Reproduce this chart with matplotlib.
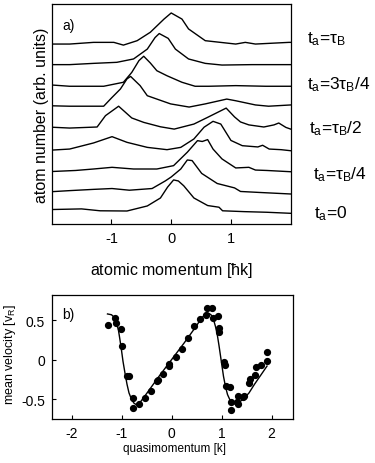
import matplotlib
matplotlib.use('Agg')
import matplotlib.pyplot as plt
import matplotlib.transforms as mtransforms
import numpy as np

plt.rcParams['font.family'] = ['Liberation Sans', 'DejaVu Sans']
plt.rcParams['mathtext.fontset'] = 'custom'
plt.rcParams['mathtext.rm'] = 'Liberation Sans'
plt.rcParams['mathtext.it'] = 'Liberation Sans'
plt.rcParams['mathtext.bf'] = 'Liberation Sans:bold'

# ---------------- panel a: momentum distributions (height above own baseline) ----------
# t_a = 0
c0_x = [-2.0, -1.5, -1.19, -0.74, -0.40, -0.18, -0.06, 0.04, 0.12, 0.21, 0.38, 0.61, 0.80, 0.86, 1.22, 1.6, 2.0]
c0_h = [0.07, 0.10, 0.01, 0.0, 0.24, 0.62, 1.14, 1.48, 1.43, 1.20, 0.62, 0.26, 0.18, 0.01, -0.03, -0.06, -0.11]
# t_a = tau_B/8
c1_x = [-2.0, -1.7, -1.30, -0.99, -0.70, -0.32, -0.10, 0.0, 0.16, 0.27, 0.35, 0.51, 0.77, 1.06, 1.16, 1.5, 2.0]
c1_h = [-0.08, -0.03, 0.03, 0.07, -0.01, 0.07, 0.43, 0.62, 1.0, 1.43, 1.40, 0.79, 0.31, 0.10, -0.07, -0.12, -0.19]
# t_a = tau_B/4
c2_x = [-2.0, -1.6, -1.30, -0.99, -0.63, -0.24, 0.04, 0.27, 0.44, 0.52, 0.61, 0.70, 0.85, 1.08, 1.30, 1.41, 1.60, 2.0]
c2_h = [-0.12, -0.07, 0.0, 0.08, 0.0, 0.0, 0.16, 0.80, 1.35, 1.31, 1.40, 0.95, 0.48, 0.05, 0.08, -0.05, -0.07, -0.13]
# t_a = 3 tau_B/8
c3_x = [-2.0, -1.7, -1.30, -0.99, -0.74, -0.40, -0.07, 0.16, 0.38, 0.55, 0.70, 0.83, 1.0, 1.19, 1.45, 1.53, 1.64, 1.84, 2.0]
c3_h = [-0.10, -0.05, 0.24, 0.54, 0.27, 0.03, -0.08, 0.03, 0.43, 0.99, 1.27, 1.14, 0.36, 0.11, 0.05, 0.13, -0.05, -0.08, -0.13]
# t_a = tau_B/2
c4_x = [-2.0, -1.7, -1.24, -1.10, -0.88, -0.66, -0.46, -0.18, 0.05, 0.38, 0.61, 0.92, 1.06, 1.16, 1.30, 1.55, 1.72, 1.80, 1.92, 2.0]
c4_h = [-0.01, -0.05, 0.0, 0.54, 0.99, 0.43, 0.22, 0.01, -0.10, 0.14, 0.46, 0.90, 0.48, 0.24, 0.10, 0.0, 0.10, 0.19, -0.02, -0.10]
# t_a = 5 tau_B/8
c5_x = [-2.0, -1.7, -1.13, -1.0, -0.85, -0.74, -0.68, -0.52, -0.40, -0.29, -0.01, 0.30, 0.57, 0.93, 1.08, 1.41, 1.63, 2.0]
c5_h = [0.01, -0.01, -0.01, 0.38, 0.81, 1.29, 1.41, 0.97, 0.49, 0.38, 0.10, -0.05, 0.10, 0.33, 0.25, 0.05, -0.01, 0.05]
# t_a = 3 tau_B/4
c6_x = [-2.0, -1.7, -1.13, -0.80, -0.66, -0.54, -0.46, -0.35, -0.24, -0.07, 0.18, 0.40, 0.63, 1.08, 1.58, 2.0]
c6_h = [0.0, -0.06, -0.06, 0.13, 0.60, 1.16, 1.37, 1.05, 0.68, 0.44, 0.13, -0.06, -0.06, -0.03, -0.06, -0.06]
# t_a = 7 tau_B/8
c7_x = [-2.0, -1.7, -1.3, -0.91, -0.63, -0.40, -0.27, -0.2, -0.05, 0.07, 0.29, 0.57, 0.85, 1.35, 2.0]
c7_h = [-0.03, -0.03, 0.03, 0.08, 0.24, 0.71, 1.26, 1.45, 1.22, 0.71, 0.24, 0.03, -0.05, -0.03, -0.03]
# t_a = tau_B
c8_x = [-2.0, -1.7, -1.3, -0.96, -0.80, -0.57, -0.35, -0.12, 0.0, 0.18, 0.29, 0.57, 1.08, 1.24, 1.41, 1.97, 2.0]
c8_h = [-0.05, -0.05, 0.03, 0.03, -0.10, 0.11, 0.51, 1.14, 1.43, 1.14, 0.67, 0.11, -0.05, 0.03, -0.05, 0.03, 0.03]

curves_x = [c0_x, c1_x, c2_x, c3_x, c4_x, c5_x, c6_x, c7_x, c8_x]
curves_h = [c0_h, c1_h, c2_h, c3_h, c4_h, c5_h, c6_h, c7_h, c8_h]

label_curve = [8, 6, 4, 2, 0]
label_text = [r'$t_a$=$\tau_B$', r'$t_a$=3$\tau_B$/4', r'$t_a$=$\tau_B$/2',
              r'$t_a$=$\tau_B$/4', r'$t_a$=0']

a_xticks = [-1, 0, 1]
a_xticklabels = ['-1', '0', '1']

# ---------------- panel b: mean velocity vs quasimomentum ----------------
q_data = [-1.27, -1.14, -1.11, -1.02, -1.00, -0.90, -0.86, -0.78, -0.78, -0.66, -0.54, -0.42,
          -0.30, -0.28, -0.18, -0.06, -0.05, 0.08, 0.20, 0.32, 0.44, 0.57, 0.68, 0.70, 0.81,
          0.82, 0.93, 0.94, 0.95, 1.05, 1.06, 1.08, 1.16, 1.18, 1.19, 1.31, 1.33, 1.32, 1.42,
          1.45, 1.54, 1.57, 1.66, 1.68, 1.78, 1.91, 1.91]
v_data = [0.44, 0.53, 0.46, 0.39, 0.17, -0.21, -0.21, -0.48, -0.61, -0.56, -0.49, -0.39,
          -0.27, -0.25, -0.18, -0.08, -0.05, 0.03, 0.14, 0.27, 0.43, 0.51, 0.57, 0.65, 0.66,
          0.53, 0.56, 0.40, 0.35, -0.03, -0.06, -0.33, -0.35, -0.63, -0.54, -0.54, -0.46, -0.56,
          -0.47, -0.46, -0.29, -0.24, -0.19, -0.09, -0.06, 0.10, -0.01]

q_theory = [-1.28, -1.20, -1.15, -1.10, -1.06, -1.03, -1.00, -0.97, -0.93, -0.89, -0.85, -0.80,
            -0.75, -0.70, -0.64, -0.5, -0.25, 0.0, 0.25, 0.5, 0.56, 0.62, 0.68, 0.74, 0.79,
            0.84, 0.88, 0.92, 0.95, 0.98, 1.01, 1.04, 1.08, 1.12, 1.17, 1.22, 1.28, 1.35,
            1.45, 1.55, 1.66, 1.78, 1.91]
v_theory = [0.58, 0.57, 0.54, 0.47, 0.37, 0.25, 0.12, -0.02, -0.17, -0.31, -0.42, -0.50,
            -0.55, -0.57, -0.55, -0.43, -0.21, 0.0, 0.21, 0.43, 0.49, 0.54, 0.58, 0.59, 0.57,
            0.51, 0.42, 0.30, 0.18, 0.05, -0.08, -0.21, -0.34, -0.44, -0.51, -0.55, -0.56, -0.54,
            -0.49, -0.42, -0.31, -0.20, -0.08]

b_xticks = [-2, -1, 0, 1, 2]
b_yticks = [0.5, 0, -0.5]
b_yticklabels = ['0.5', '0', '-0.5']

# ---------------- figure ----------------
W, H = 375, 464
fig = plt.figure(figsize=(W / 100, H / 100), dpi=100)

def px_axes(l, t, r, b):
    return fig.add_axes([l / W, 1 - b / H, (r - l) / W, (b - t) / H])

lw_spine = 0.9

# panel a
axa = px_axes(51.7, 5, 290.7, 225)
spacing = 1.0
base0 = 13 / 21
for k, (xs, hs) in enumerate(zip(curves_x, curves_h)):
    axa.plot(xs, np.array(hs) + base0 + k * spacing, color='black', lw=1.0,
             solid_joinstyle='round')
axa.set_xlim(-2, 2)
axa.set_ylim(0, 220 / 21)
axa.set_xticks(a_xticks)
axa.set_xticklabels(a_xticklabels)
axa.set_yticks([])
axa.tick_params(axis='x', direction='in', length=3.5, width=0.8, pad=5, labelsize=10.5)
for s in axa.spines.values():
    s.set_linewidth(lw_spine)
axa.set_xlabel(r'atomic momentum [$\hbar$k]', fontsize=11.5)
axa.xaxis.set_label_coords(0.5, -0.165)
axa.set_ylabel('atom number (arb. units)', fontsize=11.5)
axa.yaxis.set_label_coords(-0.012, 0.5)
axa.text(0.046, 0.905, 'a)', transform=axa.transAxes, fontsize=10, va='center', ha='left')

label_x_px = [307, 307, 309, 313, 314]
label_nudge = [0.25, 0.05, -0.05, -0.2, -0.1]
trans = mtransforms.blended_transform_factory(axa.transAxes, axa.transData)
for lx, ci, txt, nd in zip(label_x_px, label_curve, label_text, label_nudge):
    axa.text((lx - 51.7) / 239, base0 + ci * spacing + nd, txt, transform=trans,
             fontsize=12.5, ha='left', va='center', clip_on=False)

# panel b
axb = px_axes(52, 296, 293, 420)
axb.plot(q_theory, v_theory, color='black', lw=1.0, solid_joinstyle='round')
axb.plot(q_data, v_data, 'o', color='black', ms=4.2, mec='black')
axb.set_xlim(-2.39, 2.43)
axb.set_ylim(-0.75, 0.82)
axb.set_xticks(b_xticks)
axb.set_xticklabels([str(t) for t in b_xticks])
axb.set_yticks(b_yticks)
axb.set_yticklabels(b_yticklabels)
axb.tick_params(direction='in', length=3, width=0.8, labelsize=10)
axb.tick_params(axis='x', pad=5)
axb.tick_params(axis='y', pad=5)
for s in axb.spines.values():
    s.set_linewidth(lw_spine)
axb.set_xlabel('quasimomentum [k]', fontsize=8.5)
axb.xaxis.set_label_coords(0.51, -0.185)
axb.set_ylabel(r'mean velocity [v$_\mathrm{R}$]', fontsize=9)
axb.yaxis.set_label_coords(-0.14, 0.53)
axb.text(0.042, 0.85, 'b)', transform=axb.transAxes, fontsize=10, va='center', ha='left')

fig.savefig('out.png', dpi=100)
